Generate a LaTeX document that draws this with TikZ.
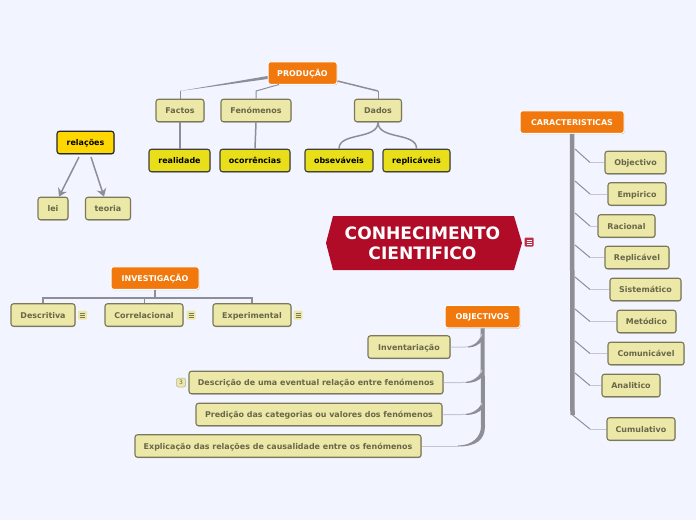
\documentclass[tikz,border=0pt]{standalone}
\usepackage{fontspec}
\setmainfont{DejaVu Sans}
\usetikzlibrary{shadows,arrows.meta}

\definecolor{paper}{HTML}{F2F5FF}
\definecolor{topicorange}{HTML}{F0780C}
\definecolor{itemfill}{HTML}{EBE8A8}
\definecolor{itemline}{HTML}{7C7859}
\definecolor{itemtext}{HTML}{69664A}
\definecolor{leaffill}{HTML}{E8DE1A}
\definecolor{relfill}{HTML}{FFD700}
\definecolor{crimson}{HTML}{B00C28}
\definecolor{linkgrey}{HTML}{8E8E96}
\definecolor{linklight}{HTML}{C6C6D2}

\tikzset{
  boxbase/.style={rectangle, rounded corners=2.5pt, inner sep=0pt, minimum height=22.5pt,
    text height=7pt, text depth=.6pt,
    font=\bfseries\fontsize{7.95}{10}\selectfont,
    drop shadow={shadow xshift=.5pt, shadow yshift=-.9pt, opacity=.5}},
  topic/.style={boxbase, fill=topicorange, draw=white, line width=1pt, text=white},
  item/.style={boxbase, fill=itemfill, draw=itemline, line width=1.1pt, text=itemtext},
  leaf/.style={boxbase, fill=leaffill, draw=black!75, line width=1.1pt, text=black},
  note/.style={rectangle, inner sep=0pt, minimum size=9pt, rounded corners=1pt, fill=itemfill,
    path picture={
      \draw[#1, line width=.8pt]
        ([xshift=-2.5pt, yshift=2pt]path picture bounding box.center) -- ++(5pt, 0)
        ([xshift=-2.5pt]path picture bounding box.center) -- ++(5pt, 0)
        ([xshift=-2.5pt, yshift=-2pt]path picture bounding box.center) -- ++(5pt, 0);}},
  note/.default=itemline,
  thick link/.style={draw=linkgrey, line width=1.5pt},
  thin link/.style={draw=linkgrey, line width=1pt},
  pale link/.style={draw=linklight, line width=1pt},
  trunk/.style={draw=linkgrey, line width=4.5pt}
}

\begin{document}
\begin{tikzpicture}[x=1pt, y=-1pt]
  \useasboundingbox[fill=paper] (0, 0) rectangle (696, 520);

  % centre
  \coordinate (cl) at (326, 243);
  \coordinate (ctl) at (333, 216);
  \coordinate (ctr) at (514, 216);
  \coordinate (cr) at (522, 243);
  \coordinate (cbr) at (514, 270);
  \coordinate (cbl) at (333, 270);
  \fill[crimson] (cl) -- (ctl) -- (ctr) -- (cr) -- (cbr) -- (cbl) -- cycle;
  \node[align=center, text=white, font=\bfseries\fontsize{17.1}{20}\selectfont] (main) at (422.5, 243) {CONHECIMENTO\\CIENTIFICO};
  \node[note=white, fill=crimson!85!white] (mainnote) at (529, 242) {};

  % producao
  \node[topic, minimum width=69pt] (prod) at (302.5, 73) {PRODUÇÃO};
  \node[item, minimum width=48pt] (fac) at (180, 110.5) {Factos};
  \node[item, minimum width=70pt] (fen) at (256, 110.5) {Fenómenos};
  \node[item, minimum width=47pt] (dad) at (378, 110.5) {Dados};
  \node[leaf, minimum width=61pt] (real) at (179.5, 160.5) {realidade};
  \node[leaf, minimum width=70pt] (oco) at (255, 160.5) {ocorrências};
  \node[leaf, minimum width=68pt] (obs) at (339, 160.5) {obseváveis};
  \node[leaf, minimum width=67pt] (rep) at (416.5, 160.5) {replicáveis};

  \coordinate (kfac) at (180, 91);
  \coordinate (kfen) at (256, 91);
  \coordinate (kdad) at (378, 91);
  \fill[linkgrey] ([yshift=2pt]prod.west |- 0, 78) -- ([yshift=-1pt]prod.west |- 0, 78) -- (kfac) -- cycle;
  \draw[thin link] (kfac) -- (fac.north);
  \draw[thin link] (279, 84.5) -- (kfen) -- (fen.north);
  \draw[thick link] (prod.east |- 0, 81) -- (kdad);
  \draw[thin link] (kdad) -- (dad.north);
  \draw[thick link] (fac.south) -- (real.north -| fac.south);
  \draw[thick link] (fen.south) -- (oco.north);
  \draw[thick link] (dad.south) .. controls (378, 140) and (339, 132) .. (obs.north);
  \draw[thick link] (dad.south) .. controls (378, 140) and (417, 132) .. (rep.north);

  % relacoes
  \node[boxbase, fill=relfill, draw=black!85, line width=1.1pt, text=black, minimum width=57pt] (rel) at (85.5, 142.5) {relações};
  \node[item, minimum width=30pt] (lei) at (53, 208.5) {lei};
  \node[item, minimum width=45pt] (teo) at (108, 208.5) {teoria};
  \coordinate (klei) at (79, 157);
  \coordinate (kteo) at (91, 157);
  \draw[thick link, -{Stealth[length=8pt, width=10pt]}] (klei) -- (lei.north -| 59, 0);
  \draw[thick link, -{Stealth[length=8pt, width=10pt]}] (kteo) -- (teo.north -| 104, 0);

  % investigacao
  \node[topic, minimum width=88pt] (inv) at (155, 278) {INVESTIGAÇÃO};
  \node[item, minimum width=64pt] (des) at (43, 315) {Descritiva};
  \node[item, minimum width=78pt] (cor) at (144, 315) {Correlacional};
  \node[item, minimum width=78pt] (exp) at (252, 315) {Experimental};
  \node[note] (desnote) at (82.5, 315) {};
  \node[note] (cornote) at (191, 315) {};
  \node[note] (expnote) at (298, 315) {};

  \coordinate (kinv) at (155, 298);
  \draw[thick link] (inv.south) -- (kinv);
  \draw[thin link, line width=1.2pt] (des.north) -- (des.north |- kinv) -- (exp.north |- kinv) -- (exp.north);
  \draw[thin link] (cor.north) -- (cor.north |- kinv);

  % objectivos
  \node[topic, minimum width=75pt] (obj) at (482.5, 316.5) {OBJECTIVOS};
  \node[item, minimum width=82pt] (inve) at (409, 347) {Inventariação};
  \node[item, minimum width=254pt] (descr) at (316, 382.5) {Descrição de uma eventual relação entre fenómenos};
  \node[item, minimum width=246pt] (pred) at (319, 414.5) {Predição das categorias ou valores dos fenómenos};
  \node[item, minimum width=286pt] (expl) at (278, 446) {Explicação das relações de causalidade entre os fenómenos};
  \node[rectangle, rounded corners=2pt, fill=itemfill, draw=itemline!60, line width=.5pt, text=itemtext,
    minimum size=9pt, inner sep=0pt, font=\fontsize{6}{7}\selectfont] (badge) at (181, 382.5) {3};

  \coordinate (tinve) at (482, 334);
  \coordinate (tdescr) at (482, 370);
  \coordinate (tpred) at (482, 403);
  \coordinate (texpl) at (483, 426);
  \draw[trunk, line width=4pt] (obj.south) -- (texpl);
  \draw[pale link] (inve.east) -- (465, 347) .. controls (473, 347) and (479, 343) .. (tinve);
  \draw[pale link] (descr.east) -- (462, 382.5) .. controls (472, 382.5) and (479, 378) .. (tdescr);
  \draw[pale link] (pred.east) -- (462, 414.5) .. controls (472, 414.5) and (479, 411) .. (tpred);
  \draw[pale link] (expl.east) -- (458, 446);
  \fill[linkgrey] (468, 346.5) .. controls (474, 346) and (478, 342) .. (481, 337) -- (483, 340) .. controls (479, 345) and (474, 347.5) .. (468, 347.5) -- cycle;
  \fill[linkgrey] (466, 382) .. controls (472, 381.5) and (478, 378) .. (481, 373) -- (483, 376) .. controls (479, 381) and (473, 383) .. (466, 383) -- cycle;
  \fill[linkgrey] (466, 414) .. controls (472, 413.5) and (478, 410) .. (481, 405) -- (483, 408) .. controls (479, 413) and (473, 415) .. (466, 415) -- cycle;
  \fill[linkgrey] (481, 426) .. controls (481, 437) and (472, 445.5) .. (458, 445.5) -- (458, 446.5) .. controls (476, 446.5) and (485, 440) .. (485, 426) -- cycle;

  % caracteristicas
  \node[topic, minimum width=104pt] (car) at (572, 122) {CARACTERISTICAS};
  \node[item, minimum width=61pt] (c1) at (635.5, 162.5) {Objectivo};
  \node[item, minimum width=58pt] (c2) at (637, 194) {Empirico};
  \node[item, minimum width=57pt] (c3) at (626.5, 226) {Racional};
  \node[item, minimum width=64pt] (c4) at (637, 257.5) {Replicável};
  \node[item, minimum width=71pt] (c5) at (645.5, 289.5) {Sistemático};
  \node[item, minimum width=59pt] (c6) at (646.5, 321.5) {Metódico};
  \node[item, minimum width=76pt] (c7) at (646, 353.5) {Comunicável};
  \node[item, minimum width=58pt] (c8) at (631, 385.5) {Analitico};
  \node[item, minimum width=68pt] (c9) at (641, 429) {Cumulativo};

  \coordinate (tc) at (572.5, 415);
  \draw[trunk] (car.south) -- (tc);
  \draw[thin link] (575, 149) -- (590, 162.5);
  \draw[pale link] (590, 162.5) -- (c1.west);
  \draw[thin link] (575, 181) -- (590, 194);
  \draw[pale link] (590, 194) -- (c2.west);
  \draw[thin link] (575, 213) -- (590, 226);
  \draw[pale link] (590, 226) -- (c3.west);
  \draw[thin link] (575, 245) -- (590, 257.5);
  \draw[pale link] (590, 257.5) -- (c4.west);
  \draw[thin link] (575, 277) -- (590, 289.5);
  \draw[pale link] (590, 289.5) -- (c5.west);
  \draw[thin link] (575, 309) -- (590, 321.5);
  \draw[pale link] (590, 321.5) -- (c6.west);
  \draw[thin link] (575, 341) -- (590, 353.5);
  \draw[pale link] (590, 353.5) -- (c7.west);
  \draw[thin link] (575, 373) -- (590, 385.5);
  \draw[pale link] (590, 385.5) -- (c8.west);
  \draw[thin link] (tc) -- (590, 429);
  \draw[pale link] (590, 429) -- (c9.west);
\end{tikzpicture}
\end{document}
